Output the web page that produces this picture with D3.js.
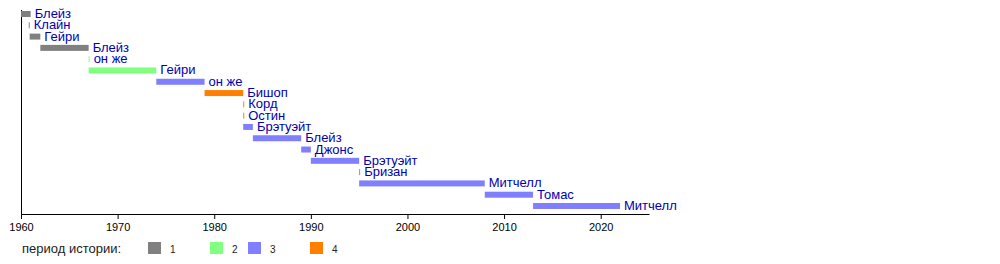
<!DOCTYPE html>
<html><head><meta charset="utf-8">
<script src="https://cdn.jsdelivr.net/npm/d3@7"></script>
<style>body{margin:0;background:#fff}svg{display:block;font-family:"Liberation Sans",Arial,sans-serif}</style>
</head><body><svg id="c" width="1000" height="264"></svg>
<script>
const names = ["Блейз","Клайн","Гейри","Блейз","он же","Гейри","он же","Бишоп","Корд","Остин","Брэтуэйт","Блейз","Джонс","Брэтуэйт","Бризан","Митчелл","Томас","Митчелл"];
const starts = [1960,1960.8,1960.9,1962,1967,1967,1974,1979,1983,1983,1983,1984,1989,1990,1995,1995,2008,2013];
const ends   = [1961,1960.85,1962,1967,1967.05,1974,1979,1983,1983.1,1983.1,1984,1989,1990,1995,1995.05,2008,2013,2022];
const periods = [1,1,1,1,2,2,3,4,4,4,3,3,3,3,3,3,3,3];
const periodLabels = ["1","2","3","4"];
const periodColors = ["#808080","#80ff80","#8080ff","#ff8000"];
const tickYears = [1960,1970,1980,1990,2000,2010,2020];
const legendTitle = "период истории:";

const svg = d3.select("#c");
const x = d3.scaleLinear().domain([1960,2025]).range([21,649]);
const y = d3.scaleLinear().domain([0,17]).range([14,206]);
const col = d3.scaleOrdinal().domain([1,2,3,4]).range(periodColors);

svg.append("line").attr("x1",x(1960)).attr("x2",x(1960)).attr("y1",10).attr("y2",214)
  .attr("stroke","#000").attr("stroke-width",1).attr("shape-rendering","crispEdges");

const rows = names.map((n,i)=>({n, s:starts[i], e:ends[i], p:periods[i], i}));
svg.selectAll("rect.bar").data(rows).enter().append("rect").attr("class","bar")
  .attr("x",d=>x(d.s)).attr("width",d=>Math.max(1,x(d.e)-x(d.s)))
  .attr("y",d=>y(d.i)-3).attr("height",6)
  .attr("fill",d=>col(d.p));
svg.selectAll("text.lab").data(rows).enter().append("text").attr("class","lab")
  .attr("x",d=>Math.max(x(d.e),x(d.s)+1)+4).attr("y",d=>y(d.i)+4)
  .attr("font-size",13).attr("fill","#0000b0").text(d=>d.n);

const axis = d3.axisBottom(x).tickValues(tickYears).tickFormat(d3.format("d")).tickSize(5).tickSizeOuter(0);
const g = svg.append("g").attr("transform","translate(0,214)").call(axis);
g.select(".domain").attr("stroke","#000");
g.selectAll(".tick text").attr("font-size",11).attr("font-family","Liberation Sans,Arial,sans-serif").attr("dy","0.85em").attr("fill","#000");

svg.append("text").attr("x",22).attr("y",253).attr("font-size",13).attr("fill","#222").text(legendTitle);
const lx = [148,210,248,310];
const lg = svg.selectAll("g.leg").data(periodLabels).enter().append("g").attr("class","leg");
lg.append("rect").attr("x",(d,i)=>lx[i]).attr("y",242).attr("width",13).attr("height",12).attr("fill",(d,i)=>periodColors[i]);
lg.append("text").attr("x",(d,i)=>lx[i]+22).attr("y",253).attr("font-size",10).attr("fill","#222").text(d=>d);
</script></body></html>
